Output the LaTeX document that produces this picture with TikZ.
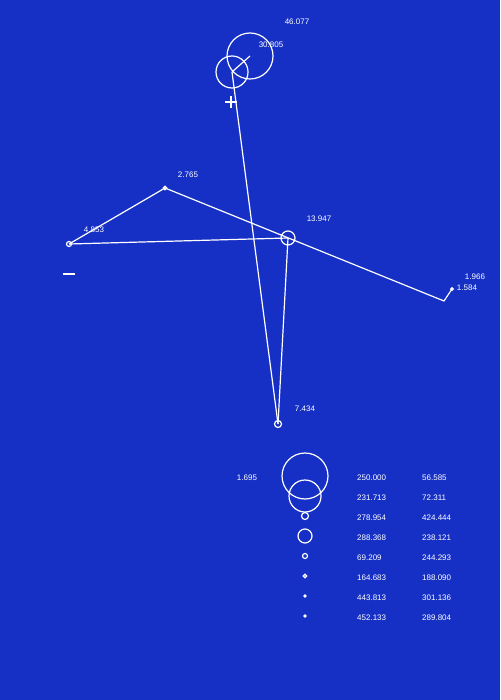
\documentclass[tikz,border=0pt]{standalone}
\usepackage{fontspec}
\setmainfont{Liberation Sans}
\definecolor{bg}{RGB}{22,48,198}
\begin{document}
\begin{tikzpicture}[x=1pt,y=-1pt,
  wl/.style={draw=white,line width=1.2pt},
  pm/.style={draw=white,line width=1.2pt},
  ring/.style={circle,draw=white,line width=1.2pt,inner sep=0pt,minimum size=#1},
  lbl/.style={text=white,font=\fontsize{8}{9.5}\selectfont,inner sep=0pt,yshift=-1pt},
  col/.style={lbl,anchor=west}]
\fill[bg] (0,0) rectangle (500,700);
\useasboundingbox (0,0) rectangle (500,700);
% network nodes
\node[ring=46pt] (big) at (250,56) {};
\node[ring=32pt] (top) at (232,72) {};
\node[ring=3.5pt] (n2) at (165,188) {};
\node[ring=5pt] (n4) at (69,244) {};
\node[ring=14pt] (n13) at (288,238) {};
\node[ring=2.5pt,fill=white] (n1) at (452,289) {};
\node[ring=7pt] (n7) at (278,424) {};
\coordinate (bend) at (444,301);
% connectors
\draw[wl] (top.center) -- (big.center);
\draw[wl] (top.center) -- (n7.center);
\draw[wl] (n4.center) -- (n2.center);
\draw[wl] (n2.center) -- (bend) -- (n1.center);
\draw[wl] (n4.center) -- (n13.center);
\draw[wl] (n13.center) -- (n7.center);
% plus / minus
\coordinate (plus) at (231,102);
\draw[pm] ([xshift=-6pt]plus) -- ([xshift=6pt]plus);
\draw[pm] ([yshift=-6pt]plus) -- ([yshift=6pt]plus);
\coordinate (minus) at (69,274);
\draw[pm] ([xshift=-6pt]minus) -- ([xshift=6pt]minus);
% labels
\node[lbl] (l1) at (297,21) {46.077};
\node[lbl] (l2) at (271,44) {30.805};
\node[lbl] (l3) at (188,174) {2.765};
\node[lbl] (l4) at (94,229) {4.853};
\node[lbl] (l5) at (319,218) {13.947};
\node[lbl] (l6) at (475,276) {1.966};
\node[lbl] (l7) at (467,287) {1.584};
\node[lbl] (l8) at (305,408) {7.434};
\node[lbl] (l9) at (247,477) {1.695};
% legend circles
\node[ring=46pt] (c1) at (305,476) {};
\node[ring=32pt] (c2) at (305,496) {};
\node[ring=7pt] (c3) at (305,516) {};
\node[ring=14pt] (c4) at (305,536) {};
\node[ring=5pt] (c5) at (305,556) {};
\node[ring=3.5pt] (c6) at (305,576) {};
\node[ring=2pt,fill=white] (c7) at (305,596) {};
\node[ring=2pt,fill=white] (c8) at (305,616) {};
% legend columns
\foreach \y/\a/\b [count=\i] in {477/250.000/56.585, 497/231.713/72.311, 517/278.954/424.444, 537/288.368/238.121, 557/69.209/244.293, 577/164.683/188.090, 597/443.813/301.136, 617/452.133/289.804}{
  \node[col] (a\i) at (357,\y) {\a};
  \node[col] (b\i) at (422,\y) {\b};
}
\end{tikzpicture}
\end{document}
